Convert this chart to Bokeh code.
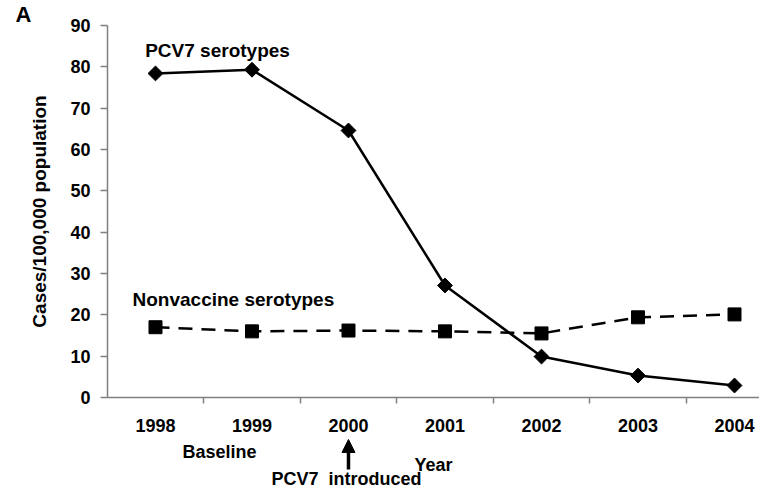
import math
from bokeh.plotting import figure
from bokeh.models import Range1d, FixedTicker, Label, Arrow, NormalHead, ColumnDataSource
from bokeh.embed import file_html
from bokeh.resources import INLINE

years = [1998, 1999, 2000, 2001, 2002, 2003, 2004]
year_labels = ["1998", "1999", "2000", "2001", "2002", "2003", "2004"]
pcv7 = [78.4, 79.3, 64.6, 27.1, 9.9, 5.3, 2.9]
nonvaccine = [17.0, 16.0, 16.2, 16.0, 15.5, 19.4, 20.1]
y_ticks = [0, 10, 20, 30, 40, 50, 60, 70, 80, 90]

FONT = "Liberation Sans"
XMIN, XMAX = 1996.394, 2004.259   # whole canvas
YMIN, YMAX = -22.02, 96.05
X0 = 1997.503                     # where the y axis sits
Y0, Y1 = 0, 90

# frame covers the whole canvas; axes are pinned inside it
p = figure(width=759, height=488, output_backend="svg", toolbar_location=None,
           x_range=Range1d(XMIN, XMAX), y_range=Range1d(YMIN, YMAX),
           min_border_left=0, min_border_right=0, min_border_top=0, min_border_bottom=0)
p.outline_line_color = None
p.xgrid.visible = False
p.ygrid.visible = False

src = ColumnDataSource(dict(x=years, pcv7=pcv7, nv=nonvaccine))

p.line("x", "pcv7", source=src, line_color="black", line_width=2.5)
p.scatter("x", "pcv7", source=src, marker="square", angle=math.pi / 4, size=10.5,
          fill_color="black", line_color="black")
p.line("x", "nv", source=src, line_color="black", line_width=2.5, line_dash="14 9")
p.scatter("x", "nv", source=src, marker="square", size=13, fill_color="black", line_color="black")

xa = p.xaxis[0]
xa.fixed_location = Y0
xa.bounds = (X0, XMAX)
xa.ticker = FixedTicker(ticks=years, minor_ticks=[y + 0.5 for y in years[:-1]])
xa.major_label_overrides = {y: l for y, l in zip(years, year_labels)}
xa.major_tick_out = 0
xa.major_tick_in = 0
xa.minor_tick_out = 6
xa.minor_tick_in = 0
xa.minor_tick_line_color = "#808080"
xa.minor_tick_line_width = 1.5
xa.axis_line_color = "#808080"
xa.axis_line_width = 1.5
xa.major_label_text_font = FONT
xa.major_label_text_font_style = "bold"
xa.major_label_text_font_size = "18px"
xa.major_label_text_color = "black"
xa.major_label_standoff = 16
xa.axis_label = "Year"
xa.axis_label_text_font = FONT
xa.axis_label_text_font_style = "bold"
xa.axis_label_text_font_size = "18px"
xa.axis_label_text_color = "black"
xa.axis_label_standoff = 19

ya = p.yaxis[0]
ya.fixed_location = X0
ya.bounds = (Y0, Y1)
ya.ticker = FixedTicker(ticks=y_ticks)
ya.major_tick_out = 7
ya.major_tick_in = 0
ya.minor_tick_out = 0
ya.minor_tick_in = 0
ya.major_tick_line_color = "#808080"
ya.major_tick_line_width = 1.5
ya.axis_line_color = "#808080"
ya.axis_line_width = 1.5
ya.major_label_text_font = FONT
ya.major_label_text_font_style = "bold"
ya.major_label_text_font_size = "18px"
ya.major_label_text_color = "black"
ya.major_label_standoff = 10
ya.axis_label = "Cases/100,000 population"
ya.axis_label_text_font = FONT
ya.axis_label_text_font_style = "bold"
ya.axis_label_text_font_size = "19px"
ya.axis_label_text_color = "black"
ya.axis_label_standoff = 17

def lab(text, x, y, size="19px", align="left"):
    p.add_layout(Label(x=x, y=y, text=text, text_font=FONT, text_font_style="bold",
                       text_font_size=size, text_color="black", text_align=align,
                       text_baseline="middle"))

lab("PCV7 serotypes", 1998.643, 83.95, align="center")
lab("Nonvaccine serotypes", 1997.762, 23.7)
lab("Baseline", 1998.663, -13.3, size="18px", align="center")
lab("PCV7\u00a0\u00a0introduced", 1999.98, -19.84, size="18px", align="center")
lab("A", 1996.549, 92.66, size="22px")

p.add_layout(Arrow(end=NormalHead(size=13, fill_color="black", line_color="black"),
                   x_start=2000, y_start=-17.4, x_end=2000, y_end=-10.16,
                   line_color="black", line_width=3.5))

open("out.html", "w").write(file_html(p, INLINE))
